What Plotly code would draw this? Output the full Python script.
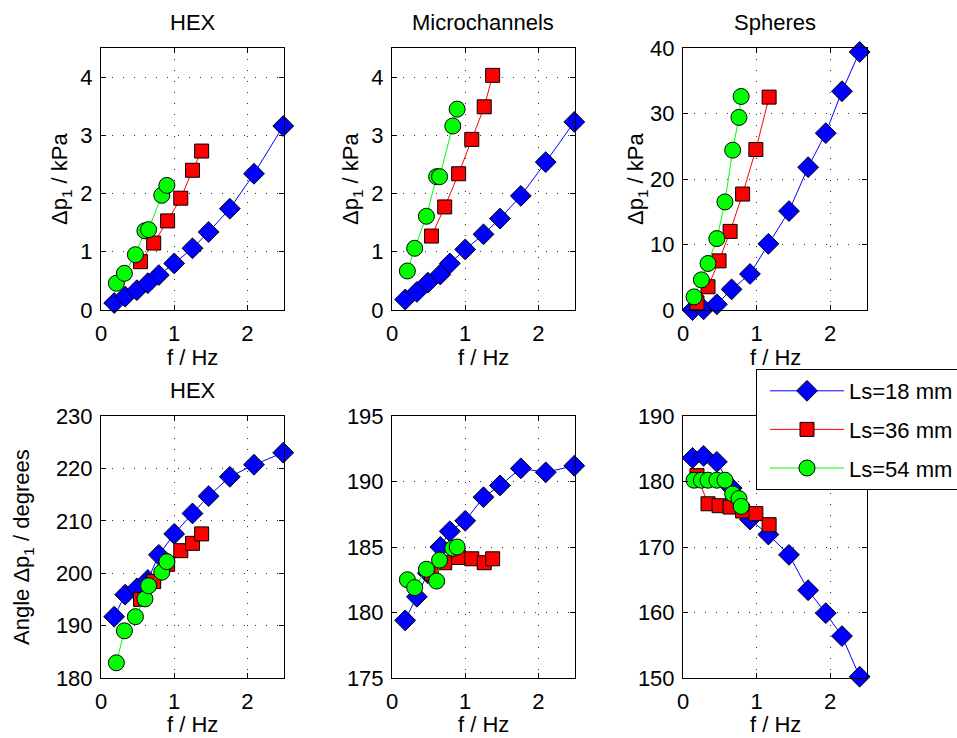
import plotly.graph_objects as go

# ---------------- data ----------------
series_names = ["Ls=18 mm", "Ls=36 mm", "Ls=54 mm"]
panel_titles = ["HEX", "Microchannels", "Spheres"]

# HEX
hex_f18 = [0.18, 0.33, 0.49, 0.64, 0.79, 1.0, 1.25, 1.47, 1.76, 2.09, 2.49]
hex_f36 = [0.54, 0.72, 0.91, 1.09, 1.25, 1.375]
hex_f54 = [0.21, 0.32, 0.47, 0.60, 0.65, 0.83, 0.90]
hex_dp18 = [0.12, 0.23, 0.34, 0.46, 0.60, 0.80, 1.06, 1.34, 1.74, 2.34, 3.16]
hex_dp36 = [0.83, 1.15, 1.53, 1.92, 2.40, 2.73]
hex_dp54 = [0.46, 0.63, 0.95, 1.36, 1.38, 1.97, 2.14]
hex_ang18 = [191.7, 195.9, 197.1, 198.7, 203.5, 207.5, 211.4, 214.7, 218.4, 220.7, 223.0]
hex_ang36 = [195.0, 198.4, 201.7, 204.3, 205.7, 207.5]
hex_ang54 = [182.9, 189.0, 191.7, 195.1, 197.6, 200.2, 202.2]

# Microchannels
mc_f18 = [0.18, 0.34, 0.49, 0.66, 0.79, 1.0, 1.25, 1.475, 1.76, 2.1, 2.49]
mc_f36 = [0.54, 0.72, 0.91, 1.09, 1.26, 1.375]
mc_f54 = [0.21, 0.31, 0.47, 0.61, 0.65, 0.83, 0.89]
mc_dp18 = [0.18, 0.31, 0.47, 0.61, 0.80, 1.04, 1.30, 1.57, 1.96, 2.54, 3.23]
mc_dp36 = [1.27, 1.77, 2.34, 2.93, 3.49, 4.03]
mc_dp54 = [0.67, 1.06, 1.61, 2.29, 2.29, 3.16, 3.45]
mc_ang18 = [179.4, 181.2, 183.0, 185.0, 186.2, 187.0, 188.8, 189.7, 191.0, 190.7, 191.2]
mc_ang36 = [183.0, 183.8, 184.2, 184.1, 183.8, 184.1]
mc_ang54 = [182.5, 181.9, 183.3, 182.4, 184.0, 184.9, 185.0]

# Spheres
sp_f18 = [0.13, 0.28, 0.46, 0.66, 0.91, 1.16, 1.44, 1.70, 1.94, 2.16, 2.40]
sp_f36 = [0.19, 0.34, 0.49, 0.64, 0.81, 0.99, 1.17]
sp_f54 = [0.15, 0.25, 0.34, 0.46, 0.57, 0.675, 0.76, 0.79]
sp_dp18 = [0.0, 0.1, 0.87, 3.15, 5.5, 10.1, 15.1, 21.8, 27.0, 33.4, 39.4]
sp_dp36 = [1.1, 3.55, 7.5, 12.0, 17.7, 24.5, 32.5]
sp_dp54 = [2.0, 4.6, 7.1, 10.9, 16.5, 24.4, 29.4, 32.6]
sp_ang18 = [183.6, 183.9, 183.0, 179.0, 174.2, 171.9, 168.8, 163.4, 159.9, 156.4, 150.2]
sp_ang36 = [180.9, 176.6, 176.3, 176.1, 175.5, 175.1, 173.4]
sp_ang54 = [180.2, 180.2, 180.2, 180.2, 180.2, 178.1, 177.4, 176.2]

x_range = [0, 2.5]
x_ticks = [0, 1, 2]
y_ranges = [[0, 4.5], [0, 4.5], [0, 40], [180, 230], [175, 195], [150, 190]]
y_ticks = [[0, 1, 2, 3, 4], [0, 1, 2, 3, 4], [0, 10, 20, 30, 40],
           [180, 190, 200, 210, 220, 230], [175, 180, 185, 190, 195],
           [150, 160, 170, 180, 190]]

panels = [
    ([hex_f18, hex_f36, hex_f54], [hex_dp18, hex_dp36, hex_dp54]),
    ([mc_f18, mc_f36, mc_f54], [mc_dp18, mc_dp36, mc_dp54]),
    ([sp_f18, sp_f36, sp_f54], [sp_dp18, sp_dp36, sp_dp54]),
    ([hex_f18, hex_f36, hex_f54], [hex_ang18, hex_ang36, hex_ang54]),
    ([mc_f18, mc_f36, mc_f54], [mc_ang18, mc_ang36, mc_ang54]),
    ([sp_f18, sp_f36, sp_f54], [sp_ang18, sp_ang36, sp_ang54]),
]

# ---------------- style ----------------
W, H = 957, 738
FONT = "Liberation Sans, Arial, Helvetica, sans-serif"
FS = 22
line_colors = ["#0000FF", "#FF0000", "#00FF00"]
symbols = ["diamond", "square", "circle"]
msizes = [16, 14, 16]

x_px = [(101, 284), (392, 575), (683, 867)]
y_px = [(48, 310), (416, 678)]


def px2x(p):
    return p / W


def px2y(p):
    return 1 - p / H


fig = go.Figure()

for i, (xs, ys) in enumerate(panels):
    ax = "" if i == 0 else str(i + 1)
    for k in range(3):
        fig.add_trace(go.Scatter(
            x=xs[k], y=ys[k], mode="lines+markers",
            name=series_names[k], legendgroup=series_names[k],
            showlegend=(i == 0),
            xaxis="x" + ax, yaxis="y" + ax,
            line=dict(color=line_colors[k], width=1),
            marker=dict(symbol=symbols[k], size=msizes[k], color=line_colors[k],
                        line=dict(color="black", width=1)),
            cliponaxis=False,
        ))

layout = {}
for i in range(6):
    col, row = i % 3, i // 3
    ax = "" if i == 0 else str(i + 1)
    common = dict(
        showline=True, linecolor="black", linewidth=1, mirror="ticks",
        ticks="inside", ticklen=5, tickcolor="black", tickwidth=1,
        showgrid=True, gridcolor="#333333", gridwidth=1, griddash="1px,10px",
        zeroline=False, automargin=False,
        tickfont=dict(family=FONT, size=FS, color="black"),
        fixedrange=True,
    )
    layout["xaxis" + ax] = dict(
        common, domain=[px2x(x_px[col][0]), px2x(x_px[col][1])],
        range=x_range, tickvals=x_ticks, anchor="y" + ax,
        ticklabelstandoff=4,
    )
    layout["yaxis" + ax] = dict(
        common, domain=[px2y(y_px[row][1]), px2y(y_px[row][0])],
        range=y_ranges[i], tickvals=y_ticks[i], anchor="x" + ax,
        ticklabelstandoff=3,
    )

annotations = []
tfont = dict(family=FONT, size=FS, color="black")
# subplot titles
for col in range(3):
    cx = (x_px[col][0] + x_px[col][1]) / 2
    annotations.append(dict(text=panel_titles[col], x=px2x(cx), y=px2y(22),
                            xref="paper", yref="paper", showarrow=False,
                            font=tfont, xanchor="center", yanchor="middle"))
annotations.append(dict(text="HEX", x=px2x((x_px[0][0] + x_px[0][1]) / 2), y=px2y(390),
                        xref="paper", yref="paper", showarrow=False,
                        font=tfont, xanchor="center", yanchor="middle"))
# x labels
for row, yc in enumerate([357, 724]):
    for col in range(3):
        cx = (x_px[col][0] + x_px[col][1]) / 2
        annotations.append(dict(text="f / Hz", x=px2x(cx), y=px2y(yc),
                                xref="paper", yref="paper", showarrow=False,
                                font=tfont, xanchor="center", yanchor="middle"))
# y labels
for cx in [61, 352, 637]:
    annotations.append(dict(text="Δp<sub>1</sub> / kPa", x=px2x(cx), y=px2y(179),
                            xref="paper", yref="paper", showarrow=False, textangle=-90,
                            font=tfont, xanchor="center", yanchor="middle"))
annotations.append(dict(text="Angle Δp<sub>1</sub> / degrees", x=px2x(23), y=px2y(547),
                        xref="paper", yref="paper", showarrow=False, textangle=-90,
                        font=tfont, xanchor="center", yanchor="middle"))

fig.update_layout(
    **layout,
    annotations=annotations,
    width=W, height=H,
    margin=dict(l=0, r=0, t=0, b=0, pad=0, autoexpand=False),
    paper_bgcolor="white", plot_bgcolor="white",
    font=dict(family=FONT, size=FS, color="black"),
    legend=dict(
        x=px2x(756), y=px2y(369), xanchor="left", yanchor="top",
        bgcolor="white", bordercolor="black", borderwidth=1,
        font=dict(family=FONT, size=FS, color="black"),
        itemwidth=74, indentation=8, tracegroupgap=7, traceorder="grouped",
    ),
)

fig.write_html("out.html", config={"displayModeBar": False},
               post_script="document.body.style.margin='0';document.body.style.overflow='hidden';")
